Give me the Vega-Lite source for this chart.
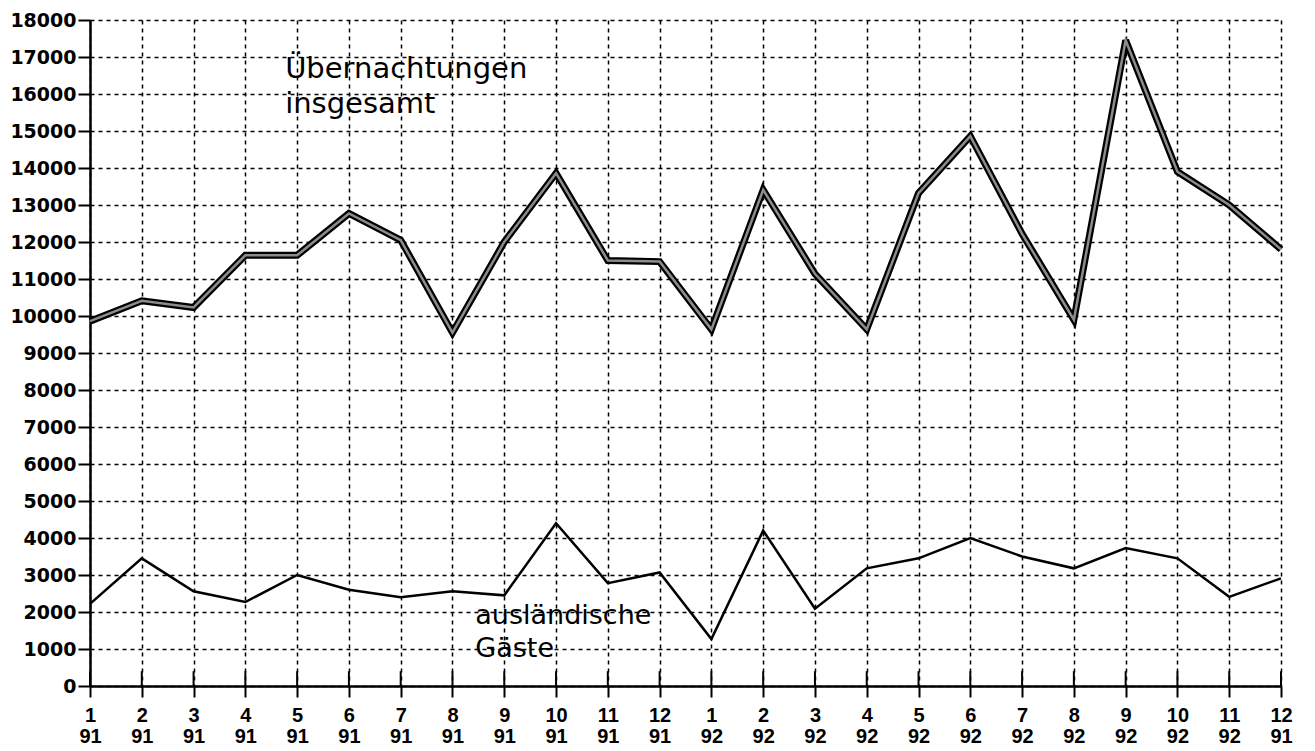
{
  "$schema": "https://vega.github.io/schema/vega-lite/v6.json",
  "width": 1191,
  "height": 666,
  "autosize": "none",
  "padding": {"left": 90, "top": 20, "right": 34, "bottom": 65},
  "background": "white",
  "config": {
    "view": {"stroke": null},
    "axis": {
      "domainColor": "black", "domainWidth": 2.5,
      "tickColor": "black", "tickWidth": 2,
      "gridColor": "black", "gridDash": [4, 4], "gridWidth": 1.5, "gridOpacity": 1,
      "labelColor": "black", "labelFontWeight": "bold", "title": null,
      "labelOverlap": false
    },
    "axisY": {
      "labelOverlap": false, "labelFont": "DejaVu Sans", "labelFontSize": 19,
      "labelPadding": 2, "tickSize": 12
    }
  },
  "datasets": {
    "werte": [
      {"monat": "1/91", "insgesamt": 9860, "auslaendisch": 2220},
      {"monat": "2/91", "insgesamt": 10410, "auslaendisch": 3450},
      {"monat": "3/91", "insgesamt": 10230, "auslaendisch": 2560},
      {"monat": "4/91", "insgesamt": 11640, "auslaendisch": 2270},
      {"monat": "5/91", "insgesamt": 11640, "auslaendisch": 3000},
      {"monat": "6/91", "insgesamt": 12770, "auslaendisch": 2600},
      {"monat": "7/91", "insgesamt": 12050, "auslaendisch": 2400},
      {"monat": "8/91", "insgesamt": 9550, "auslaendisch": 2560},
      {"monat": "9/91", "insgesamt": 12000, "auslaendisch": 2450},
      {"monat": "10/91", "insgesamt": 13860, "auslaendisch": 4400},
      {"monat": "11/91", "insgesamt": 11500, "auslaendisch": 2780},
      {"monat": "12/91", "insgesamt": 11470, "auslaendisch": 3070},
      {"monat": "1/92", "insgesamt": 9640, "auslaendisch": 1270},
      {"monat": "2/92", "insgesamt": 13410, "auslaendisch": 4200},
      {"monat": "3/92", "insgesamt": 11140, "auslaendisch": 2090},
      {"monat": "4/92", "insgesamt": 9640, "auslaendisch": 3180},
      {"monat": "5/92", "insgesamt": 13320, "auslaendisch": 3450},
      {"monat": "6/92", "insgesamt": 14860, "auslaendisch": 4000},
      {"monat": "7/92", "insgesamt": 12220, "auslaendisch": 3500},
      {"monat": "8/92", "insgesamt": 9900, "auslaendisch": 3180},
      {"monat": "9/92", "insgesamt": 17450, "auslaendisch": 3730},
      {"monat": "10/92", "insgesamt": 13900, "auslaendisch": 3450},
      {"monat": "11/92", "insgesamt": 13000, "auslaendisch": 2410},
      {"monat": "12/92", "insgesamt": 11800, "auslaendisch": 2910}
    ],
    "beschriftung1": [
      {"label": "Übernachtungen", "monat": "5/91", "wert": 16435},
      {"label": "insgesamt", "monat": "5/91", "wert": 15490}
    ],
    "beschriftung2": [
      {"label": "ausländische", "monat": "9/91", "wert": 1680},
      {"label": "Gäste", "monat": "9/91", "wert": 790}
    ]
  },
  "encoding": {
    "x": {
      "field": "monat", "type": "ordinal",
      "scale": {"type": "point", "padding": 0,
        "domain": ["1/91","2/91","3/91","4/91","5/91","6/91","7/91","8/91","9/91","10/91","11/91","12/91","1/92","2/92","3/92","4/92","5/92","6/92","7/92","8/92","9/92","10/92","11/92","12/92"]},
      "axis": {
        "grid": true, "labelAngle": 0, "tickSize": 11,
        "labelFont": "Liberation Sans", "labelFontSize": 20, "labelLineHeight": 21,
        "labelPadding": 8, "labelBaseline": "top", "labelDx": 2, "labelOverlap": false,
        "labelExpr": "datum.value == '12/92' ? ['12', '91'] : split(datum.value, '/')"
      }
    },
    "y": {
      "type": "quantitative",
      "scale": {"domain": [0, 18000], "nice": false, "zero": true},
      "axis": {
        "values": [0,1000,2000,3000,4000,5000,6000,7000,8000,9000,10000,11000,12000,13000,14000,15000,16000,17000,18000],
        "format": "d", "grid": true, "labelOverlap": false
      }
    }
  },
  "layer": [
    {
      "data": {"name": "werte"},
      "mark": {"type": "rule", "color": "black", "strokeWidth": 2},
      "encoding": {
        "y": {"datum": 0, "type": "quantitative"},
        "y2": {"datum": 400}
      }
    },
    {
      "data": {"name": "werte"},
      "mark": {"type": "line", "color": "black", "strokeWidth": 7, "strokeJoin": "miter", "strokeMiterLimit": 3},
      "encoding": {"y": {"field": "insgesamt", "type": "quantitative"}}
    },
    {
      "data": {"name": "werte"},
      "mark": {"type": "line", "color": "#8c8c8c", "strokeWidth": 2.5, "strokeJoin": "miter"},
      "encoding": {"y": {"field": "insgesamt", "type": "quantitative"}}
    },
    {
      "data": {"name": "werte"},
      "mark": {"type": "line", "color": "black", "strokeWidth": 2.5},
      "encoding": {"y": {"field": "auslaendisch", "type": "quantitative"}}
    },
    {
      "data": {"name": "beschriftung1"},
      "mark": {"type": "text", "font": "DejaVu Sans", "fontSize": 29, "align": "left", "baseline": "alphabetic", "dx": -12, "color": "black"},
      "encoding": {
        "y": {"field": "wert", "type": "quantitative"},
        "text": {"field": "label"}
      }
    },
    {
      "data": {"name": "beschriftung2"},
      "mark": {"type": "text", "font": "DejaVu Sans", "fontSize": 27, "align": "left", "baseline": "alphabetic", "dx": -29, "color": "black"},
      "encoding": {
        "y": {"field": "wert", "type": "quantitative"},
        "text": {"field": "label"}
      }
    }
  ]
}
